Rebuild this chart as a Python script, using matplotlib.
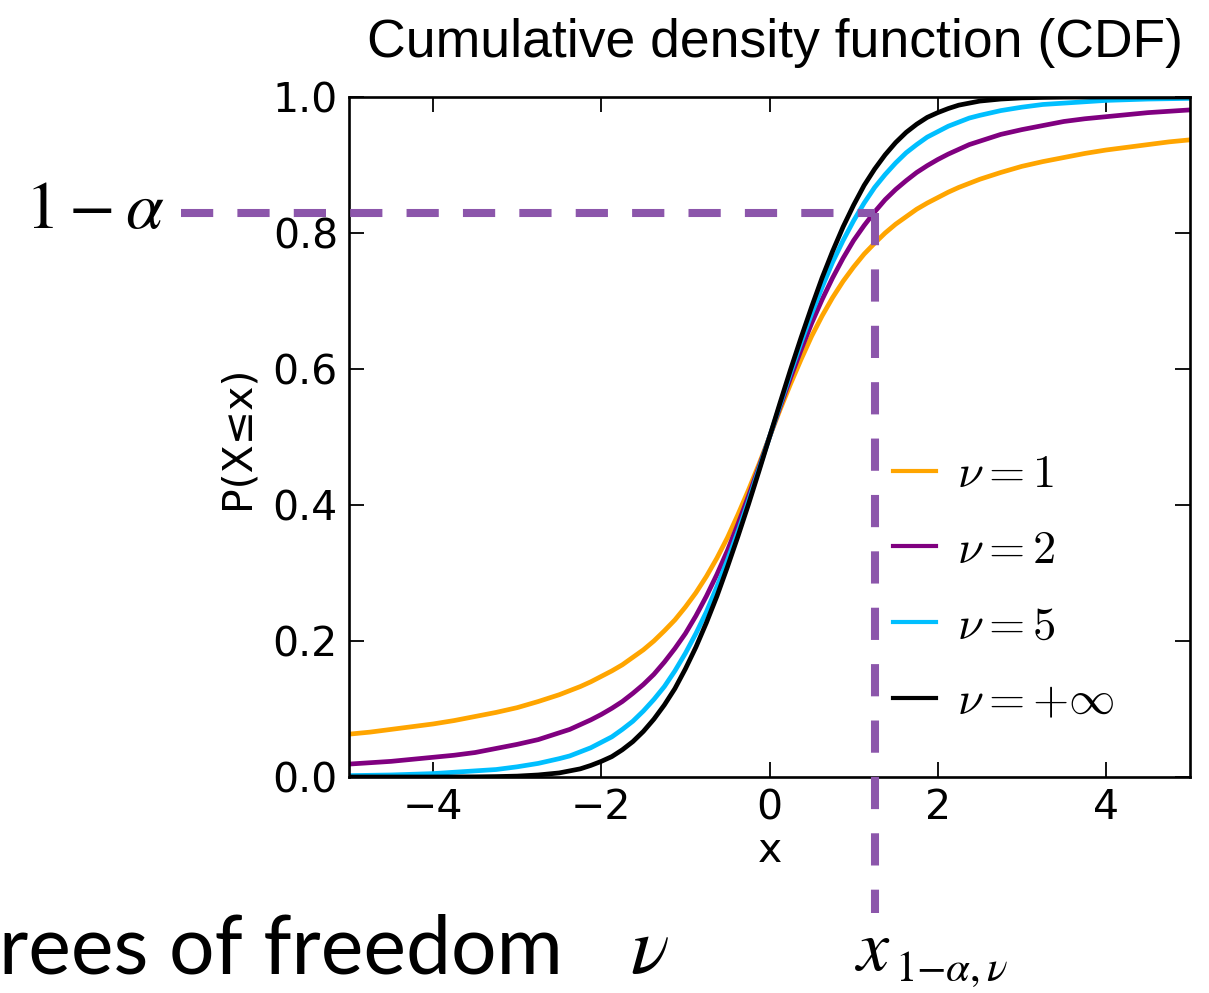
import numpy as np
import matplotlib
matplotlib.use("Agg")
import matplotlib.pyplot as plt

x_vals = [-5.0, -4.75, -4.5, -4.25, -4.0, -3.75, -3.5, -3.25, -3.0, -2.75, -2.5,
          -2.375, -2.25, -2.125, -2.0, -1.875, -1.75, -1.625, -1.5, -1.375, -1.25,
          -1.125, -1.0, -0.875, -0.75, -0.625, -0.5, -0.375, -0.25, -0.125, 0.0,
          0.125, 0.25, 0.375, 0.5, 0.625, 0.75, 0.875, 1.0, 1.125, 1.25,
          1.375, 1.5, 1.625, 1.75, 1.875, 2.0, 2.125, 2.25, 2.375, 2.5,
          2.75, 3.0, 3.25, 3.5, 3.75, 4.0, 4.25, 4.5, 4.75, 5.0]

# P(X<=x) for each degree of freedom
cdf_nu1 = [0.063, 0.066, 0.070, 0.074, 0.078, 0.083, 0.089, 0.095, 0.102, 0.111, 0.121,
           0.127, 0.133, 0.140, 0.148, 0.156, 0.165, 0.176, 0.187, 0.200, 0.215,
           0.231, 0.250, 0.271, 0.295, 0.322, 0.352, 0.386, 0.422, 0.460, 0.500,
           0.540, 0.578, 0.614, 0.648, 0.678, 0.705, 0.729, 0.750, 0.769, 0.785,
           0.800, 0.813, 0.824, 0.835, 0.844, 0.852, 0.860, 0.867, 0.873, 0.879,
           0.889, 0.898, 0.905, 0.911, 0.917, 0.922, 0.926, 0.930, 0.934, 0.937]
cdf_nu2 = [0.019, 0.021, 0.023, 0.026, 0.029, 0.032, 0.036, 0.042, 0.048, 0.055, 0.065,
           0.070, 0.077, 0.084, 0.092, 0.101, 0.111, 0.123, 0.136, 0.151, 0.169,
           0.189, 0.211, 0.237, 0.266, 0.298, 0.333, 0.372, 0.413, 0.456, 0.500,
           0.544, 0.587, 0.628, 0.667, 0.702, 0.734, 0.763, 0.789, 0.811, 0.831,
           0.849, 0.864, 0.877, 0.889, 0.899, 0.908, 0.916, 0.923, 0.930, 0.935,
           0.945, 0.952, 0.958, 0.964, 0.968, 0.971, 0.974, 0.977, 0.979, 0.981]
cdf_nu5 = [0.002, 0.0025, 0.003, 0.004, 0.005, 0.007, 0.009, 0.011, 0.015, 0.020, 0.027,
           0.031, 0.037, 0.043, 0.051, 0.059, 0.070, 0.082, 0.097, 0.114, 0.133,
           0.156, 0.182, 0.211, 0.243, 0.280, 0.319, 0.361, 0.406, 0.453, 0.500,
           0.547, 0.594, 0.639, 0.681, 0.720, 0.757, 0.789, 0.818, 0.844, 0.867,
           0.886, 0.903, 0.918, 0.930, 0.941, 0.949, 0.957, 0.963, 0.969, 0.973,
           0.980, 0.985, 0.989, 0.991, 0.993, 0.995, 0.996, 0.997, 0.9975, 0.998]
cdf_inf = [0.0, 0.0, 0.0, 0.0, 0.0, 0.0001, 0.0002, 0.0006, 0.0013, 0.003, 0.006,
           0.009, 0.012, 0.017, 0.023, 0.030, 0.040, 0.052, 0.067, 0.085, 0.106,
           0.130, 0.159, 0.191, 0.227, 0.266, 0.309, 0.354, 0.401, 0.450, 0.500,
           0.550, 0.599, 0.646, 0.691, 0.734, 0.773, 0.809, 0.841, 0.870, 0.894,
           0.915, 0.933, 0.948, 0.960, 0.970, 0.977, 0.983, 0.988, 0.991, 0.994,
           0.997, 0.9987, 0.9994, 0.9998, 0.9999, 1.0, 1.0, 1.0, 1.0, 1.0]

labels = [r"$\nu = 1$", r"$\nu = 2$", r"$\nu = 5$", r"$\nu = +\infty$"]
colors = ["#ffa500", "#800080", "#00bfff", "black"]

# quantile marked with the dashed guide lines
level = 0.83
x_crit = 1.25
guide_left = -7.0
guide_bottom = -0.2

plt.rcParams["mathtext.fontset"] = "cm"
plt.rcParams["font.family"] = "DejaVu Sans"

fig = plt.figure(figsize=(12.09, 9.93), dpi=100)
ax = fig.add_axes([349 / 1209, 1 - 777 / 993, 841 / 1209, 680 / 993])

for ys, c, lab in zip([cdf_nu1, cdf_nu2, cdf_nu5, cdf_inf], colors, labels):
    ax.plot(x_vals, ys, color=c, lw=3.4, label=lab)

ax.set_xlim(-5, 5)
ax.set_ylim(0, 1)
ax.set_xticks([-4, -2, 0, 2, 4])
ax.set_yticks([0.0, 0.2, 0.4, 0.6, 0.8, 1.0])
ax.tick_params(direction="in", top=True, right=True, length=10.5, width=1.3,
               labelsize=29.5, pad=8)
for sp in ax.spines.values():
    sp.set_linewidth(1.9)
ax.set_xlabel("x", fontsize=29.5, labelpad=2)
ax.set_ylabel("P(X≤x)", fontsize=29.5, labelpad=11)

leg = ax.legend(loc="upper left", bbox_to_anchor=(893 / 1209, 1 - 452 / 993),
                bbox_transform=fig.transFigure, frameon=False, fontsize=33.5,
                handlelength=0.93, handletextpad=0.45, labelspacing=0.66,
                borderpad=0, borderaxespad=0)
for h in leg.get_lines():
    h.set_linewidth(3.0)

dash_kw = dict(color="#8c56ab", lw=5.8, dashes=(4, 3), clip_on=False, zorder=5,
               solid_capstyle="butt", dash_capstyle="butt")
ax.plot([guide_left, x_crit], [level, level], **dash_kw)
ax.plot([x_crit, x_crit], [level, guide_bottom], **dash_kw)

fig.text(1183 / 1209, 1 - 57 / 993, "Cumulative density function (CDF)",
         ha="right", va="baseline", fontsize=38.5, family="Liberation Sans")
fig.text(25 / 1209, 1 - 228 / 993, r"$1-\alpha$", ha="left", va="baseline",
         fontsize=49, math_fontfamily="stix")
# quantile label: main symbol and its low subscript
fig.text(855 / 1209, 1 - 970 / 993, r"$x$", ha="left", va="baseline",
         fontsize=52, math_fontfamily="stix")
fig.text(895 / 1209, 1 - 981 / 993, r"$1{-}\alpha,\nu$", ha="left", va="baseline",
         fontsize=31, math_fontfamily="stix")
fig.text(563 / 1209, 1 - 973 / 993, "rees of freedom", ha="right", va="baseline",
         fontsize=58, family="Lato")
fig.text(630 / 1209, 1 - 973 / 993, r"$\nu$", ha="left", va="baseline",
         fontsize=58, math_fontfamily="stix")

fig.savefig("out.png", dpi=100)
